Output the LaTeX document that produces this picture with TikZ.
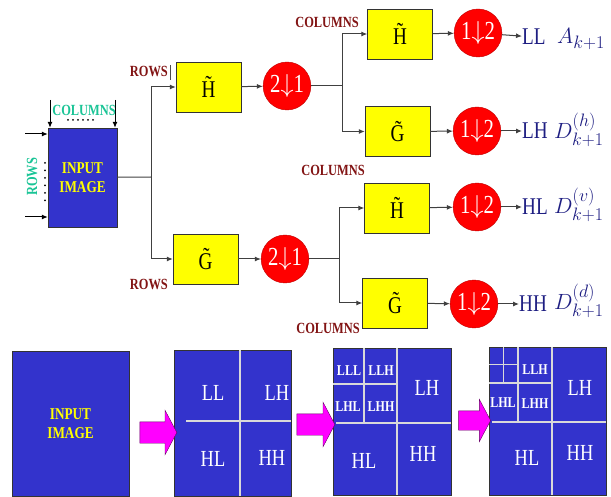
\RequirePackage{fix-cm}
\documentclass[tikz,border=0pt]{standalone}
\usepackage{fontspec}
\setmainfont[FakeStretch=0.8]{Liberation Serif}
\usepackage{tikz}
\usetikzlibrary{arrows.meta,positioning,shapes.geometric,shapes.arrows}
\DeclareMathSizes{22}{22}{18}{14}
\definecolor{imgBlue}{RGB}{51,51,204}
\definecolor{imgYellow}{RGB}{255,255,0}
\definecolor{dsRed}{RGB}{255,0,0}
\definecolor{lblTeal}{RGB}{26,196,150}
\definecolor{lblRed}{RGB}{130,20,20}
\definecolor{lblNavy}{RGB}{30,30,130}
\definecolor{arrMag}{RGB}{255,0,255}
\definecolor{wgray}{RGB}{64,64,64}

\begin{document}
\begin{tikzpicture}[x=1pt,y=-1pt,
  conn/.style={wgray, line width=1pt},
  arr/.style={conn, -{Latex[length=6pt,width=5pt]}, shorten >=0pt},
  filt/.style={draw=black!80, fill=imgYellow, minimum width=65pt, minimum height=50pt, inner sep=0pt, font=\fontsize{24}{24}\selectfont},
  dsmp/.style={ellipse, draw=red!75!black, fill=dsRed, minimum width=40pt, minimum height=48pt, inner sep=0pt, text=white, font=\fontsize{26}{26}\selectfont},
  imgbox/.style={draw=black!80, fill=imgBlue, inner sep=0pt, align=center, text=imgYellow, font=\bfseries\fontsize{16.5}{19}\selectfont},
  collab/.style={font=\bfseries\fontsize{15.5}{15.5}\selectfont, inner sep=0pt},
  outlab/.style={text=lblNavy, font=\fontsize{24}{24}\selectfont, inner sep=0pt, anchor=west},
  mathlab/.style={text=lblNavy, font=\fontsize{22}{22}\selectfont, inner sep=0pt, anchor=west},
  sublab/.style={text=white, font=\fontsize{23}{23}\selectfont, inner sep=0pt},
  smlab/.style={text=white, font=\bfseries\fontsize{15}{15}\selectfont, inner sep=0pt},
  divl/.style={white!85!black, line width=1.3pt},
  magarr/.style={single arrow, draw=black!60!arrMag, fill=arrMag, single arrow head extend=11.5pt, single arrow tip angle=124, single arrow head indent=0pt, inner sep=10.5pt}]
\useasboundingbox (0,0) rectangle (611,497);

\node[imgbox, minimum width=69pt, minimum height=99pt] (input) at (82.5,177.5) {INPUT\\IMAGE};
\coordinate (cola) at (50,100);
\coordinate (colb) at (115,100);
\coordinate (rowa) at (25,134);
\coordinate (rowb) at (25,217);
\draw[arr, black] (cola) -- (cola |- input.north);
\draw[arr, black] (colb) -- (colb |- input.north);
\draw[arr, black] (rowa) -- (rowa -| input.west);
\draw[arr, black] (rowb) -- (rowb -| input.west);
\node[collab, text=lblTeal] (colin) at (84,110) {COLUMNS};
\node[collab, text=lblTeal, rotate=90] (rowin) at (32,177) {ROWS};
\foreach \k in {0,...,5} \fill (68+5*\k,120) circle (1pt);
\foreach \k in {0,...,5} \fill (45,163+7.5*\k) circle (1pt);

\node[filt] (hr) at (208.5,87) {\~H};
\node[filt] (gr) at (205.5,259) {\~G};
\node[dsmp] (d1) at (287,86) {2$\big\downarrow$1};
\node[dsmp] (d2) at (285,259) {2$\big\downarrow$1};
\coordinate (sp1) at (151,177);
\coordinate (sp2) at (342,86);
\coordinate (sp3) at (339,259);
\draw[conn] (input) -- (sp1);
\draw[arr] (sp1) |- (hr);
\draw[arr] (sp1) |- (gr);
\draw[arr] (hr) -- (d1);
\draw[arr] (gr) -- (d2);
\node[collab, text=lblRed, anchor=east] (rowsa) at (168,71) {ROWS};
\draw[black!70, line width=0.6pt] (170,65) -- (170,80);
\node[collab, text=lblRed, anchor=east] (rowsb) at (168,284) {ROWS};

\node[filt] (hh) at (400,34) {\~H};
\node[filt] (hg) at (397.5,131.5) {\~G};
\node[filt] (gh) at (397,208) {\~H};
\node[filt] (gg) at (395,303) {\~G};
\draw[conn] (d1) -- (sp2);
\draw[conn] (d2) -- (sp3);
\draw[arr] (sp2) |- (hh);
\draw[arr] (sp2) |- (hg);
\draw[arr] (sp3) |- (gh);
\draw[arr] (sp3) |- (gg);
\node[collab, text=lblRed] (colsa) at (327,22) {COLUMNS};
\node[collab, text=lblRed] (colsb) at (333,170) {COLUMNS};
\node[collab, text=lblRed] (colsc) at (328,328) {COLUMNS};

\node[dsmp] (c1) at (478,33) {1$\big\downarrow$2};
\node[dsmp] (c2) at (477,131) {1$\big\downarrow$2};
\node[dsmp] (c3) at (477,207) {1$\big\downarrow$2};
\node[dsmp] (c4) at (474,304) {1$\big\downarrow$2};
\draw[arr] (hh) -- (c1);
\draw[arr] (hg) -- (c2);
\draw[arr] (gh) -- (c3);
\draw[arr] (gg) -- (c4);
\node[outlab] (ll) at (522,37) {LL};
\node[outlab] (lh) at (522,131) {LH};
\node[outlab] (hl) at (522,207) {HL};
\node[outlab] (hhb) at (519,304) {HH};
\draw[arr] (c1) -- (ll);
\draw[arr] (c2) -- (lh);
\draw[arr] (c3) -- (hl);
\draw[arr] (c4) -- (hhb);
\node[mathlab] (all) at (557,39) {$A_{k+1}$};
\node[mathlab] (dh) at (554,130) {$D_{k+1}^{(h)}$};
\node[mathlab] (dv) at (554,205) {$D_{k+1}^{(v)}$};
\node[mathlab] (dd) at (554,301) {$D_{k+1}^{(d)}$};

\node[imgbox, minimum width=117pt, minimum height=145pt] (pic0) at (70.5,423.5) {INPUT\\IMAGE};
\node[imgbox, minimum width=117pt, minimum height=146pt] (pic1) at (232.5,423) {};
\node[imgbox, minimum width=118pt, minimum height=147pt] (pic2) at (392,421.5) {};
\node[imgbox, minimum width=117pt, minimum height=148pt] (pic3) at (547.5,421) {};
\node[magarr, minimum height=37pt] (m1) at (155.5,432.5) {};
\node[magarr, minimum height=38pt] (m2) at (313,424.5) {};
\node[magarr, minimum height=32pt, inner sep=9.5pt] (m3) at (472,420.5) {};

\draw[divl] (240,350) -- (240,496);
\draw[divl] (186,421) -- (291,421);
\node[sublab] (p1ll) at (213,393) {LL};
\node[sublab] (p1lh) at (277,393) {LH};
\node[sublab] (p1hl) at (213,459) {HL};
\node[sublab] (p1hh) at (272,458) {HH};

\draw[divl] (397,348) -- (397,495);
\draw[divl] (336,423) -- (451,423);
\draw[divl] (333,384) -- (397,384);
\draw[divl] (364,348) -- (364,423);
\node[smlab] (p2lll) at (349,371) {LLL};
\node[smlab] (p2llh) at (381,371) {LLH};
\node[smlab] (p2lhl) at (348,407) {LHL};
\node[smlab] (p2lhh) at (381,407) {LHH};
\node[sublab] (p2lh) at (427,388) {LH};
\node[sublab] (p2hl) at (364,461) {HL};
\node[sublab] (p2hh) at (423,454) {HH};

\draw[divl] (552,347) -- (552,495);
\draw[divl] (492,422) -- (606,422);
\draw[divl] (489,383) -- (552,383);
\draw[divl] (518,347) -- (518,422);
\draw[divl, line width=0.8pt] (489,364) -- (518,364);
\draw[divl, line width=0.8pt] (503,347) -- (503,383);
\node[smlab] (p3llh) at (535,370) {LLH};
\node[smlab] (p3lhl) at (503,403) {LHL};
\node[smlab] (p3lhh) at (535,404) {LHH};
\node[sublab] (p3lh) at (580,388) {LH};
\node[sublab] (p3hl) at (527,458) {HL};
\node[sublab] (p3hh) at (580,453) {HH};
\end{tikzpicture}
\end{document}
